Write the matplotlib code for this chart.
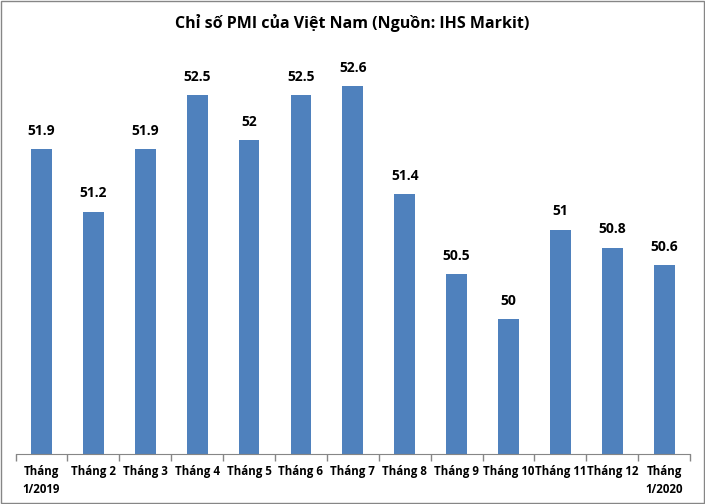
import numpy as np
import matplotlib.pyplot as plt
from matplotlib.patches import Rectangle

months = ['Tháng\n1/2019', 'Tháng 2', 'Tháng 3', 'Tháng 4', 'Tháng 5', 'Tháng 6',
          'Tháng 7', 'Tháng 8', 'Tháng 9', 'Tháng 10', 'Tháng 11', 'Tháng 12',
          'Tháng\n1/2020']
pmi = [51.9, 51.2, 51.9, 52.5, 52.0, 52.5, 52.6, 51.4, 50.5, 50.0, 51.0, 50.8, 50.6]
value_labels = ['51.9', '51.2', '51.9', '52.5', '52', '52.5', '52.6', '51.4',
                '50.5', '50', '51', '50.8', '50.6']

plt.rcParams['font.family'] = ['Open Sans', 'DejaVu Sans']

fig = plt.figure(figsize=(7.05, 5.04), dpi=100)
ax = fig.add_axes([0.022, 0.099, 0.957, 0.802])

x = np.arange(len(months))
ax.bar(x, pmi, width=0.4, color='#4f81bd', zorder=2)
ax.set_xlim(-0.5, len(months) - 0.5)
ax.set_ylim(48.5, 53)

for xi, v, lab in zip(x, pmi, value_labels):
    ax.annotate(lab, (xi, v), xytext=(0, 8), textcoords='offset points',
                ha='center', va='bottom', fontsize=10, fontweight='bold')

ax.set_xticks(x)
ax.set_xticklabels(months, fontsize=8.3, fontweight='bold', linespacing=1.45)
ax.tick_params(axis='x', length=0, pad=8)
ax.set_xticks(np.arange(-0.5, len(months)), minor=True)
ax.tick_params(axis='x', which='minor', length=5, color='#868686', width=1)
ax.set_yticks([])
for s in ['top', 'right', 'left']:
    ax.spines[s].set_visible(False)
ax.spines['bottom'].set_color('#868686')

fig.text(0.5, 0.955, 'Chỉ số PMI của Việt Nam (Nguồn: IHS Markit)',
         ha='center', va='center', fontsize=11.5, fontweight='bold')

fig.patches.append(Rectangle((0.002, 0.002), 0.996, 0.996, transform=fig.transFigure,
                             fill=False, edgecolor='#868686', linewidth=1))

fig.savefig('out.png', dpi=100)
